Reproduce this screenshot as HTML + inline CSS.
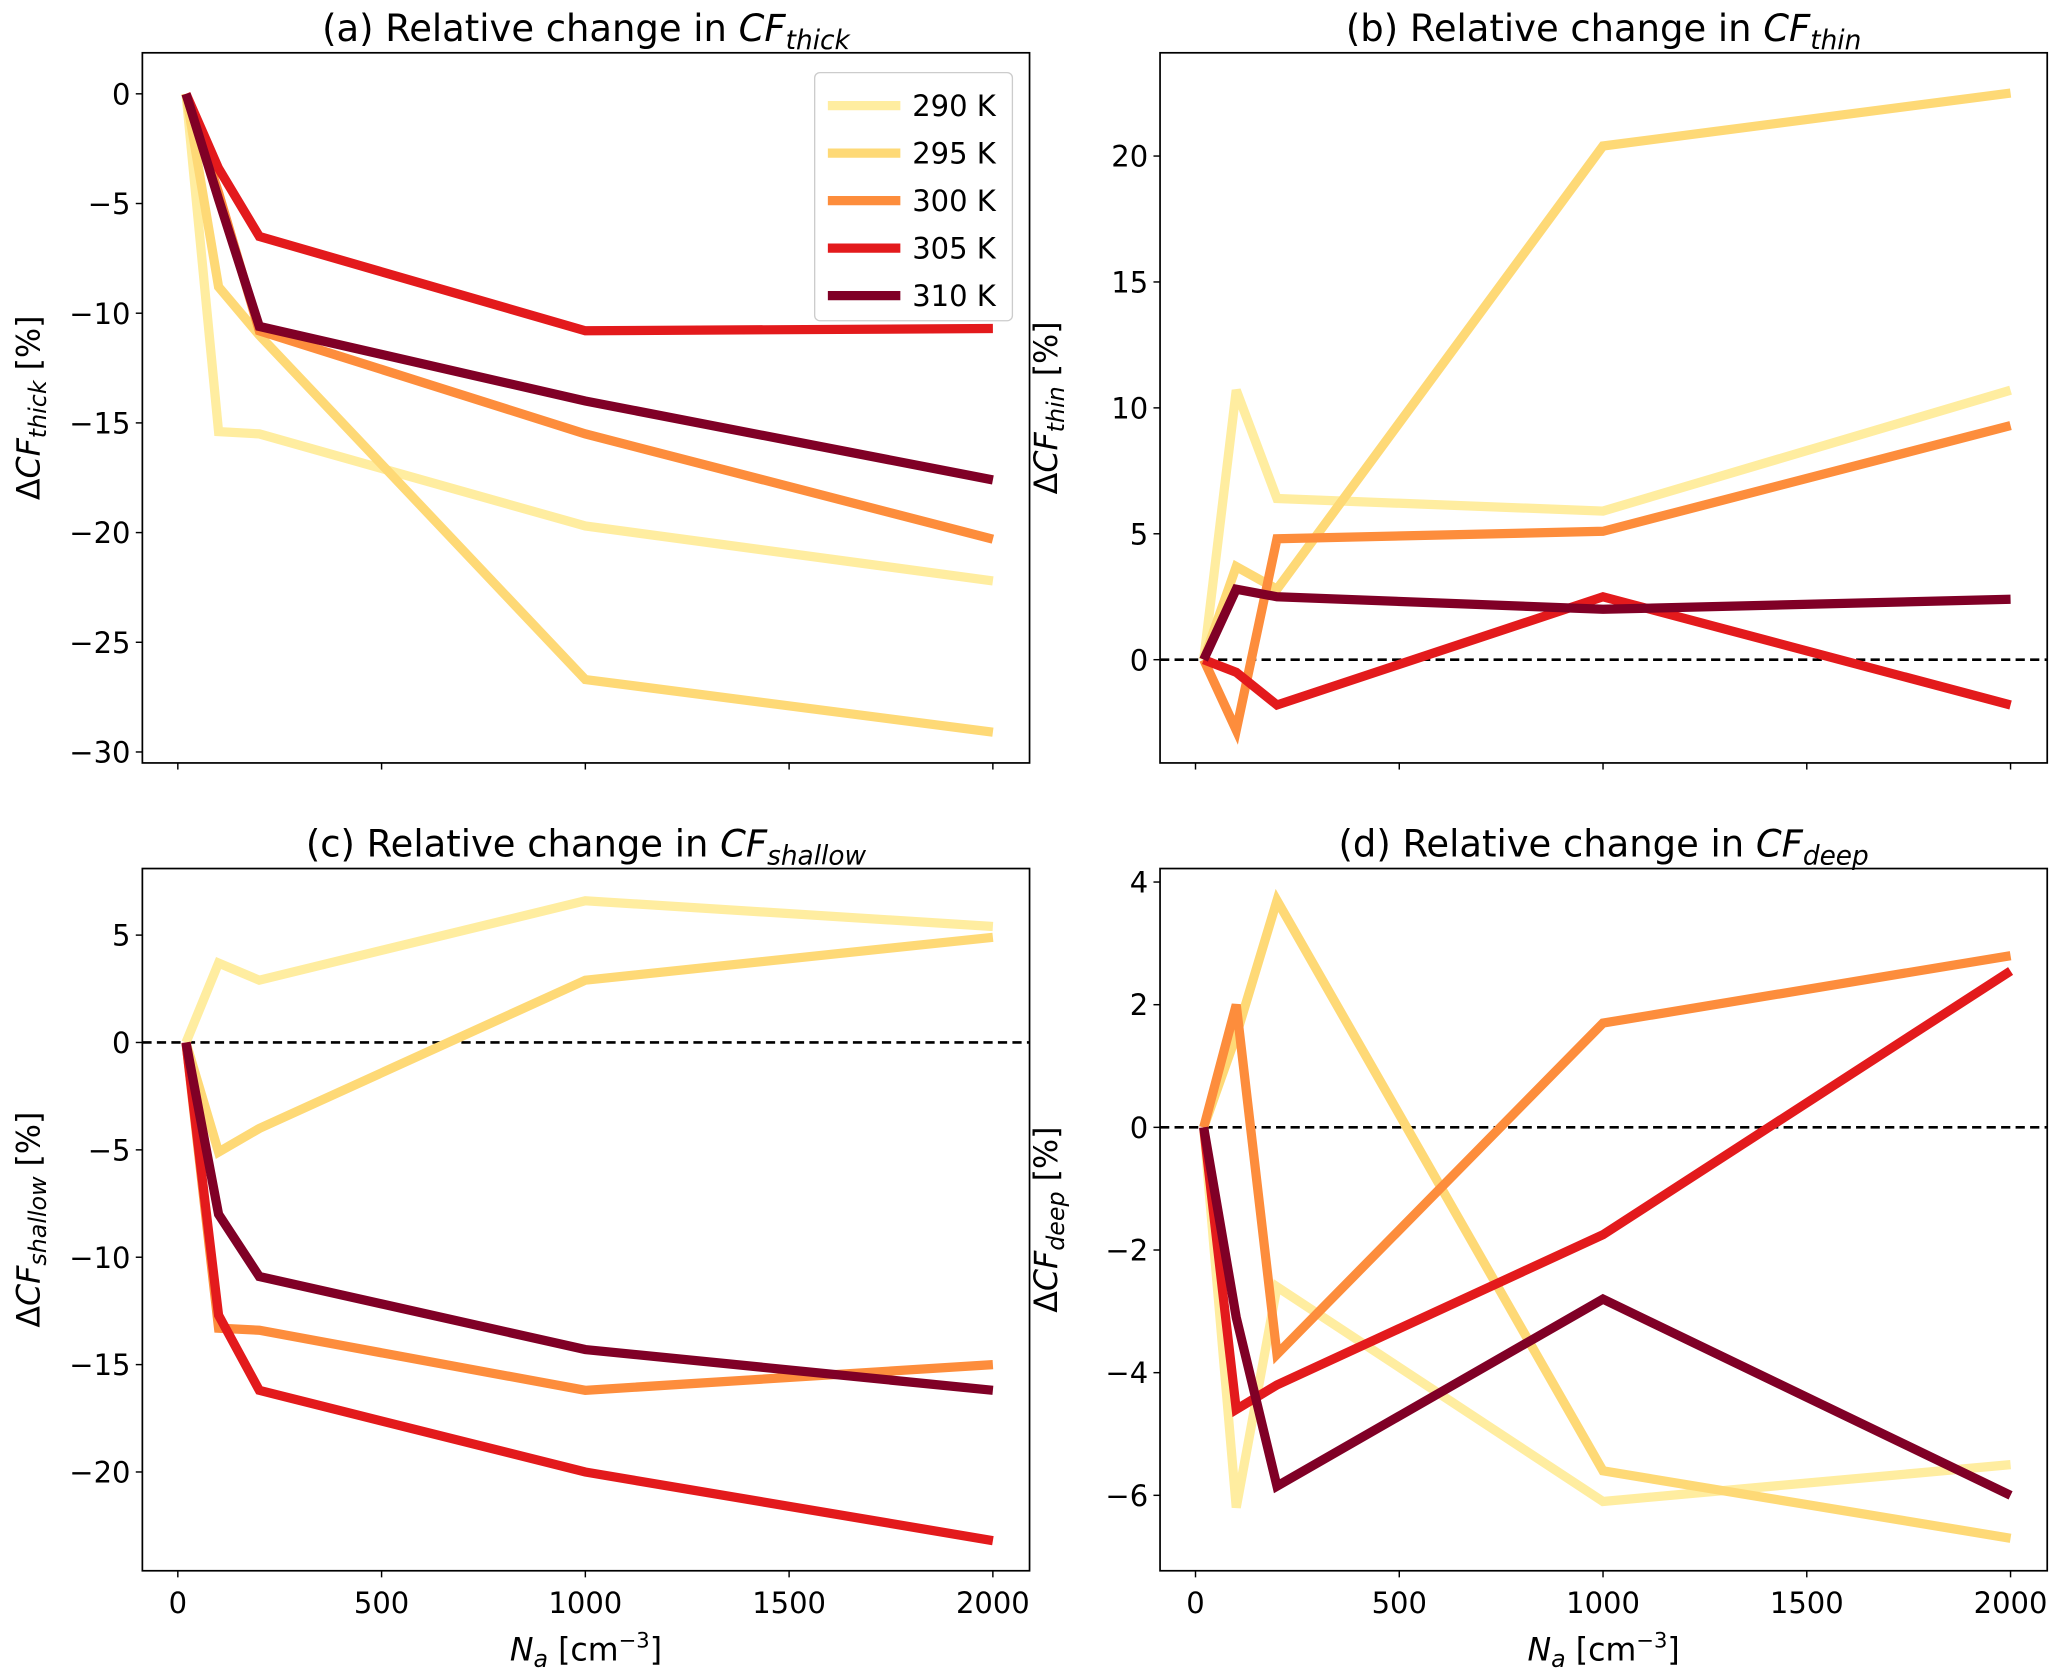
<!DOCTYPE html>
<html><head><meta charset="utf-8"><style>
html,body{margin:0;padding:0;background:#fff;}
svg{display:block;font-family:"DejaVu Sans","Liberation Sans",sans-serif;}
</style></head><body>
<svg id="fig" width="2067" height="1679" viewBox="0 0 1568 1272" preserveAspectRatio="none" xmlns="http://www.w3.org/2000/svg"></svg>
<script>
const categories = [20, 100, 200, 1000, 2000];
const seriesLabels = ["290 K","295 K","300 K","305 K","310 K"];
const colors = ["#ffeda0","#fed976","#fd8d3c","#e31a1c","#800026"];
const xTicks = [0,500,1000,1500,2000];
const thick290=[0,-15.4,-15.5,-19.7,-22.2], thick295=[0,-8.8,-11,-26.7,-29.1], thick300=[0,-4.5,-10.8,-15.5,-20.3], thick305=[0,-3.4,-6.5,-10.8,-10.7], thick310=[0,-4.8,-10.6,-14.0,-17.6];
const thin290=[0,10.7,6.4,5.9,10.7], thin295=[0,3.7,2.8,20.4,22.5], thin300=[0,-2.8,4.8,5.1,9.3], thin305=[0,-0.5,-1.8,2.5,-1.8], thin310=[0,2.8,2.5,2.0,2.4];
const shallow290=[0,3.7,2.9,6.6,5.4], shallow295=[0,-5.1,-4.0,2.9,4.9], shallow300=[0,-13.3,-13.4,-16.2,-15.0], shallow305=[0,-12.7,-16.2,-20.0,-23.2], shallow310=[0,-8.0,-10.9,-14.3,-16.2];
const deep290=[0,-6.2,-2.6,-6.1,-5.5], deep295=[0,1.5,3.7,-5.6,-6.7], deep300=[0,2.0,-3.7,1.7,2.8], deep305=[0,-4.6,-4.2,-1.75,2.55], deep310=[0,-3.1,-5.85,-2.8,-6.0];
const yTicksA=[0,-5,-10,-15,-20,-25,-30], yTicksB=[0,5,10,15,20], yTicksC=[5,0,-5,-10,-15,-20], yTicksD=[4,2,0,-2,-4,-6];

const NS="http://www.w3.org/2000/svg";
const svg=document.getElementById('fig');
function mk(tag,attrs,parent){const e=document.createElementNS(NS,tag);for(const k in attrs)e.setAttribute(k,attrs[k]);(parent||svg).appendChild(e);return e;}
function fmt(v){return v<0?"\u2212"+Math.abs(v):String(v);}

const panels=[
 {id:'a',x0:108,x1:781,y0:40,y1:578,ymin:-30.5,ymax:1.87,ticks:yTicksA,series:[thick290,thick295,thick300,thick305,thick310],sub:'thick',zero:false,xl:false,legend:true},
 {id:'b',x0:880,x1:1553,y0:40,y1:578,ymin:-4.1,ymax:24.1,ticks:yTicksB,series:[thin290,thin295,thin300,thin305,thin310],sub:'thin',zero:true,xl:false},
 {id:'c',x0:108,x1:781,y0:658,y1:1190,ymin:-24.6,ymax:8.1,ticks:yTicksC,series:[shallow290,shallow295,shallow300,shallow305,shallow310],sub:'shallow',zero:true,xl:true},
 {id:'d',x0:880,x1:1553,y0:658,y1:1190,ymin:-7.23,ymax:4.22,ticks:yTicksD,series:[deep290,deep295,deep300,deep305,deep310],sub:'deep',zero:true,xl:true}
];
const XMIN=-87,XMAX=2090;
panels.forEach(p=>{
  const g=mk('g',{});
  
  
  const sx=v=>p.x0+(v-XMIN)/(XMAX-XMIN)*(p.x1-p.x0);
  const sy=v=>p.y1-(v-p.ymin)/(p.ymax-p.ymin)*(p.y1-p.y0);
  const cp=mk('clipPath',{id:'clip'+p.id},g);mk('rect',{x:p.x0,y:p.y0,width:p.x1-p.x0,height:p.y1-p.y0},cp);
  if(p.zero){const z=mk('line',{x1:p.x0,x2:p.x1,y1:sy(0),y2:sy(0),stroke:'#000','stroke-width':2,'stroke-dasharray':'7,4'},g);
    }
  const lg=mk('g',{'clip-path':'url(#clip'+p.id+')'},g);
  p.series.forEach((s,i)=>{
    const pts=s.map((v,j)=>sx(categories[j]).toFixed(1)+','+sy(v).toFixed(1)).join(' ');
    const pl=mk('polyline',{points:pts,fill:'none',stroke:colors[i],'stroke-width':7,'stroke-linejoin':'miter','stroke-linecap':'butt'},lg);
    
    
  });
  const fr=mk('rect',{x:p.x0,y:p.y0,width:p.x1-p.x0,height:p.y1-p.y0,fill:'none',stroke:'#000','stroke-width':1.3},g);
  
  xTicks.forEach(t=>{
    mk('line',{x1:sx(t),x2:sx(t),y1:p.y1,y2:p.y1+5,stroke:'#000','stroke-width':1.1},g);
    if(p.xl){const tx=mk('text',{x:sx(t),y:p.y1+32,'font-size':22,'text-anchor':'middle'},g);tx.textContent=t;
      }
  });
  p.ticks.forEach(t=>{
    mk('line',{x1:p.x0-5,x2:p.x0,y1:sy(t),y2:sy(t),stroke:'#000','stroke-width':1.1},g);
    const ty=mk('text',{x:p.x0-9,y:sy(t)+8,'font-size':22,'text-anchor':'end'},g);ty.textContent=fmt(t);
    
  });
  const ti=mk('text',{x:(p.x0+p.x1)/2,y:p.y0-9,'font-size':28,'text-anchor':'middle'},g);
  
  ti.innerHTML='('+p.id+') Relative change in <tspan font-style="italic">CF</tspan><tspan font-style="italic" font-size="20" dy="6">'+p.sub+'</tspan>';
  const cy=(p.y0+p.y1)/2, cx=p.x0-78;
  const yl=mk('text',{x:cx,y:cy,'font-size':24,'text-anchor':'middle',transform:'rotate(-90 '+cx+' '+cy+')'},g);
  
  yl.innerHTML='\u0394<tspan font-style="italic">CF</tspan><tspan font-style="italic" font-size="18" dy="5">'+p.sub+'</tspan><tspan dy="-5"> [%]</tspan>';
  if(p.xl){const xl=mk('text',{x:(p.x0+p.x1)/2,y:p.y1+68,'font-size':24,'text-anchor':'middle'},g);
    
    xl.innerHTML='<tspan font-style="italic">N</tspan><tspan font-style="italic" font-size="18" dy="5">a</tspan><tspan dy="-5"> [cm</tspan><tspan font-size="16" dy="-10">\u22123</tspan><tspan dy="10">]</tspan>';}
  if(p.legend){
    const L=mk('g',{},g);
    mk('rect',{x:618,y:55,width:150,height:188,rx:4,fill:'#fff','fill-opacity':0.8,stroke:'#ccc','stroke-width':1},L);
    seriesLabels.forEach((lab,i)=>{
      const yy=80+i*36;
      const e=mk('g',{},L);
      mk('line',{x1:628,x2:683,y1:yy,y2:yy,stroke:colors[i],'stroke-width':7},e);
      const t=mk('text',{x:692,y:yy+8,'font-size':22},e);t.textContent=lab;
    });
  }
});
</script>
</body></html>
